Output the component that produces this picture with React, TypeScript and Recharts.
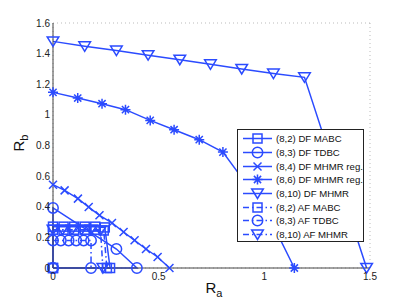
import React from 'react';
import { LineChart, Line, XAxis, YAxis, CartesianGrid, Legend, Label } from 'recharts';

type P = { x: number; y: number };
const mk = (arr: number[][]): P[] => arr.map(([x, y]) => ({ x, y }));

const xTicks = [0, 0.5, 1, 1.5];
const yTicks = [0, 0.2, 0.4, 0.6, 0.8, 1, 1.2, 1.4, 1.6];

const dfMABC = mk([[0, 0], [0, 0.27], [0.05, 0.27], [0.1, 0.27], [0.15, 0.27], [0.2, 0.27], [0.245, 0.265], [0.27, 0], [0, 0]]);
const dfTDBC = mk([[0, 0], [0, 0.392], [0.3, 0.124], [0.397, 0], [0, 0]]);
const dfMHMR4 = mk([[0, 0.544], [0.055, 0.507], [0.118, 0.453], [0.169, 0.398], [0.22, 0.344], [0.279, 0.294], [0.334, 0.235], [0.386, 0.181], [0.44, 0.124], [0.495, 0.072], [0.551, 0]]);
const dfMHMR6 = mk([[0, 1.147], [0.117, 1.11], [0.232, 1.073], [0.343, 1.034], [0.46, 0.964], [0.573, 0.903], [0.692, 0.838], [0.804, 0.757], [0.92, 0.54], [1.035, 0.3], [1.142, 0]]);
const dfMHMR10 = mk([[0, 1.48], [0.15, 1.448], [0.3, 1.42], [0.45, 1.39], [0.6, 1.36], [0.745, 1.33], [0.893, 1.3], [1.043, 1.27], [1.19, 1.245], [1.484, 0]]);
const afMABC = mk([[0, 0.25], [0.05, 0.25], [0.1, 0.25], [0.15, 0.25], [0.2, 0.25], [0.24, 0.245], [0.255, 0]]);
const afTDBC = mk([[0, 0.18], [0.037, 0.18], [0.074, 0.18], [0.11, 0.18], [0.145, 0.18], [0.18, 0.18], [0.18, 0]]);
const afMHMR10 = mk([[0, 0.25], [0.045, 0.25], [0.09, 0.25], [0.135, 0.25], [0.18, 0.25], [0.225, 0.245], [0.236, 0]]);

const BLUE = '#2b4bff';
const SOLID = undefined;
const DASHDOT = '6 3 1.5 3';

type Marker = 'square' | 'circle' | 'x' | 'star' | 'tri';

const series: { name: string; data: P[]; marker: Marker; dash?: string }[] = [
  { name: '(8,2) DF MABC', data: dfMABC, marker: 'square', dash: SOLID },
  { name: '(8,3) DF TDBC', data: dfTDBC, marker: 'circle', dash: SOLID },
  { name: '(8,4) DF MHMR reg.', data: dfMHMR4, marker: 'x', dash: SOLID },
  { name: '(8,6) DF MHMR reg.', data: dfMHMR6, marker: 'star', dash: SOLID },
  { name: '(8,10) DF MHMR', data: dfMHMR10, marker: 'tri', dash: SOLID },
  { name: '(8,2) AF MABC', data: afMABC, marker: 'square', dash: DASHDOT },
  { name: '(8,3) AF TDBC', data: afTDBC, marker: 'circle', dash: DASHDOT },
  { name: '(8,10) AF MHMR', data: afMHMR10, marker: 'tri', dash: DASHDOT },
];

function MarkerShape({ m, cx, cy }: { m: Marker; cx: number; cy: number }) {
  const common = { stroke: BLUE, strokeWidth: 1.5, fill: 'none' };
  switch (m) {
    case 'square':
      return <rect x={cx - 4.5} y={cy - 4.5} width={9} height={9} {...common} />;
    case 'circle':
      return <circle cx={cx} cy={cy} r={5.2} {...common} />;
    case 'x':
      return <path d={`M${cx - 4},${cy - 4}L${cx + 4},${cy + 4}M${cx - 4},${cy + 4}L${cx + 4},${cy - 4}`} {...common} />;
    case 'star':
      return (
        <path
          d={`M${cx - 5},${cy}L${cx + 5},${cy}M${cx},${cy - 5}L${cx},${cy + 5}M${cx - 3.6},${cy - 3.6}L${cx + 3.6},${cy + 3.6}M${cx - 3.6},${cy + 3.6}L${cx + 3.6},${cy - 3.6}`}
          {...common}
        />
      );
    case 'tri':
    default:
      return <path d={`M${cx - 5.8},${cy - 4.5}L${cx + 5.8},${cy - 4.5}L${cx},${cy + 5}Z`} {...common} />;
  }
}

const makeDot = (m: Marker, name: string) => (props: any) => {
  const { cx, cy, index } = props;
  if (cx == null || cy == null) return <g key={`${name}-${index}`} />;
  return (
    <g key={`${name}-${index}`}>
      <MarkerShape m={m} cx={cx} cy={cy} />
    </g>
  );
};

const LegendBox = () => (
  <div
    style={{
      width: 127,
      height: 113,
      background: '#fff',
      border: '1px solid #222',
      boxSizing: 'border-box',
      paddingTop: 2,
      fontFamily: '"Liberation Sans", Arial, sans-serif',
      fontSize: 9.6,
      color: '#111',
    }}
  >
    {series.map((s) => (
      <div key={s.name} style={{ display: 'flex', alignItems: 'center', height: 13.7 }}>
        <svg width={38} height={13} style={{ flex: 'none' }}>
          <line x1={5} x2={34} y1={6.5} y2={6.5} stroke={BLUE} strokeWidth={1.5} strokeDasharray={s.dash} />
          <MarkerShape m={s.marker} cx={19.5} cy={6.5} />
        </svg>
        <span style={{ whiteSpace: 'nowrap' }}>{s.name}</span>
      </div>
    ))}
  </div>
);

const tickStyle = { fontSize: 10, fill: '#222', fontFamily: '"Liberation Sans", Arial, sans-serif' };

const XLabel = (props: any) => {
  const vb = props.viewBox;
  const cx = vb.x + vb.width / 2;
  return (
    <text x={cx - 6} y={293} fontSize={15} fill="#111" fontFamily='"Liberation Sans", Arial, sans-serif'>
      R<tspan fontSize={11} dy={4}>a</tspan>
    </text>
  );
};

const YLabel = (props: any) => {
  const vb = props.viewBox;
  const cy = vb.y + vb.height / 2;
  return (
    <text x={0} y={0} transform={`translate(24,${cy + 6}) rotate(-90)`} fontSize={15} fill="#111" fontFamily='"Liberation Sans", Arial, sans-serif'>
      R<tspan fontSize={11} dy={4}>b</tspan>
    </text>
  );
};

export default function App() {
  return (
    <div style={{ position: 'absolute', left: 0, top: 0, background: '#fff' }}>
      <LineChart width={409} height={308} margin={{ top: 23, right: 39, left: 0, bottom: 0 }}>
        <CartesianGrid stroke="#aaa" strokeDasharray="1 3" strokeWidth={0.8} />
        <XAxis
          xAxisId="b"
          type="number"
          dataKey="x"
          domain={[0, 1.5]}
          ticks={xTicks}
          height={40}
          tickSize={0}
          tickMargin={5}
          tickLine={false}
          stroke="#444"
          tick={tickStyle}
          interval={0}
        >
          <Label content={<XLabel />} />
        </XAxis>
        <XAxis xAxisId="t" orientation="top" type="number" dataKey="x" domain={[0, 1.5]} ticks={xTicks} height={0} tick={false} tickSize={4} mirror stroke="#444" />
        <XAxis xAxisId="bm" orientation="bottom" type="number" dataKey="x" domain={[0, 1.5]} ticks={xTicks} height={0} tick={false} tickSize={4} mirror stroke="#444" axisLine={false} />
        <YAxis
          yAxisId="l"
          type="number"
          domain={[0, 1.6]}
          ticks={yTicks}
          width={53}
          tickSize={0}
          tickMargin={3}
          tickLine={false}
          stroke="#444"
          tick={tickStyle}
          interval={0}
        >
          <Label content={<YLabel />} />
        </YAxis>
        <YAxis yAxisId="r" orientation="right" type="number" domain={[0, 1.6]} ticks={yTicks} width={0} tick={false} tickSize={4} mirror stroke="#444" />
        <YAxis yAxisId="lm" orientation="left" type="number" domain={[0, 1.6]} ticks={yTicks} width={0} tick={false} tickSize={4} mirror stroke="#444" axisLine={false} />
        {series.map((s) => (
          <Line
            key={s.name}
            xAxisId="b"
            yAxisId="l"
            data={s.data}
            dataKey="y"
            name={s.name}
            type="linear"
            stroke={BLUE}
            strokeWidth={1.5}
            strokeDasharray={s.dash}
            dot={makeDot(s.marker, s.name)}
            activeDot={false}
            isAnimationActive={false}
          />
        ))}
        <Legend
          layout="horizontal"
          verticalAlign="middle"
          align="center"
          content={<LegendBox />}
          wrapperStyle={{ position: 'absolute', left: 237, top: 129, width: 127, height: 113 }}
        />
      </LineChart>
    </div>
  );
}
